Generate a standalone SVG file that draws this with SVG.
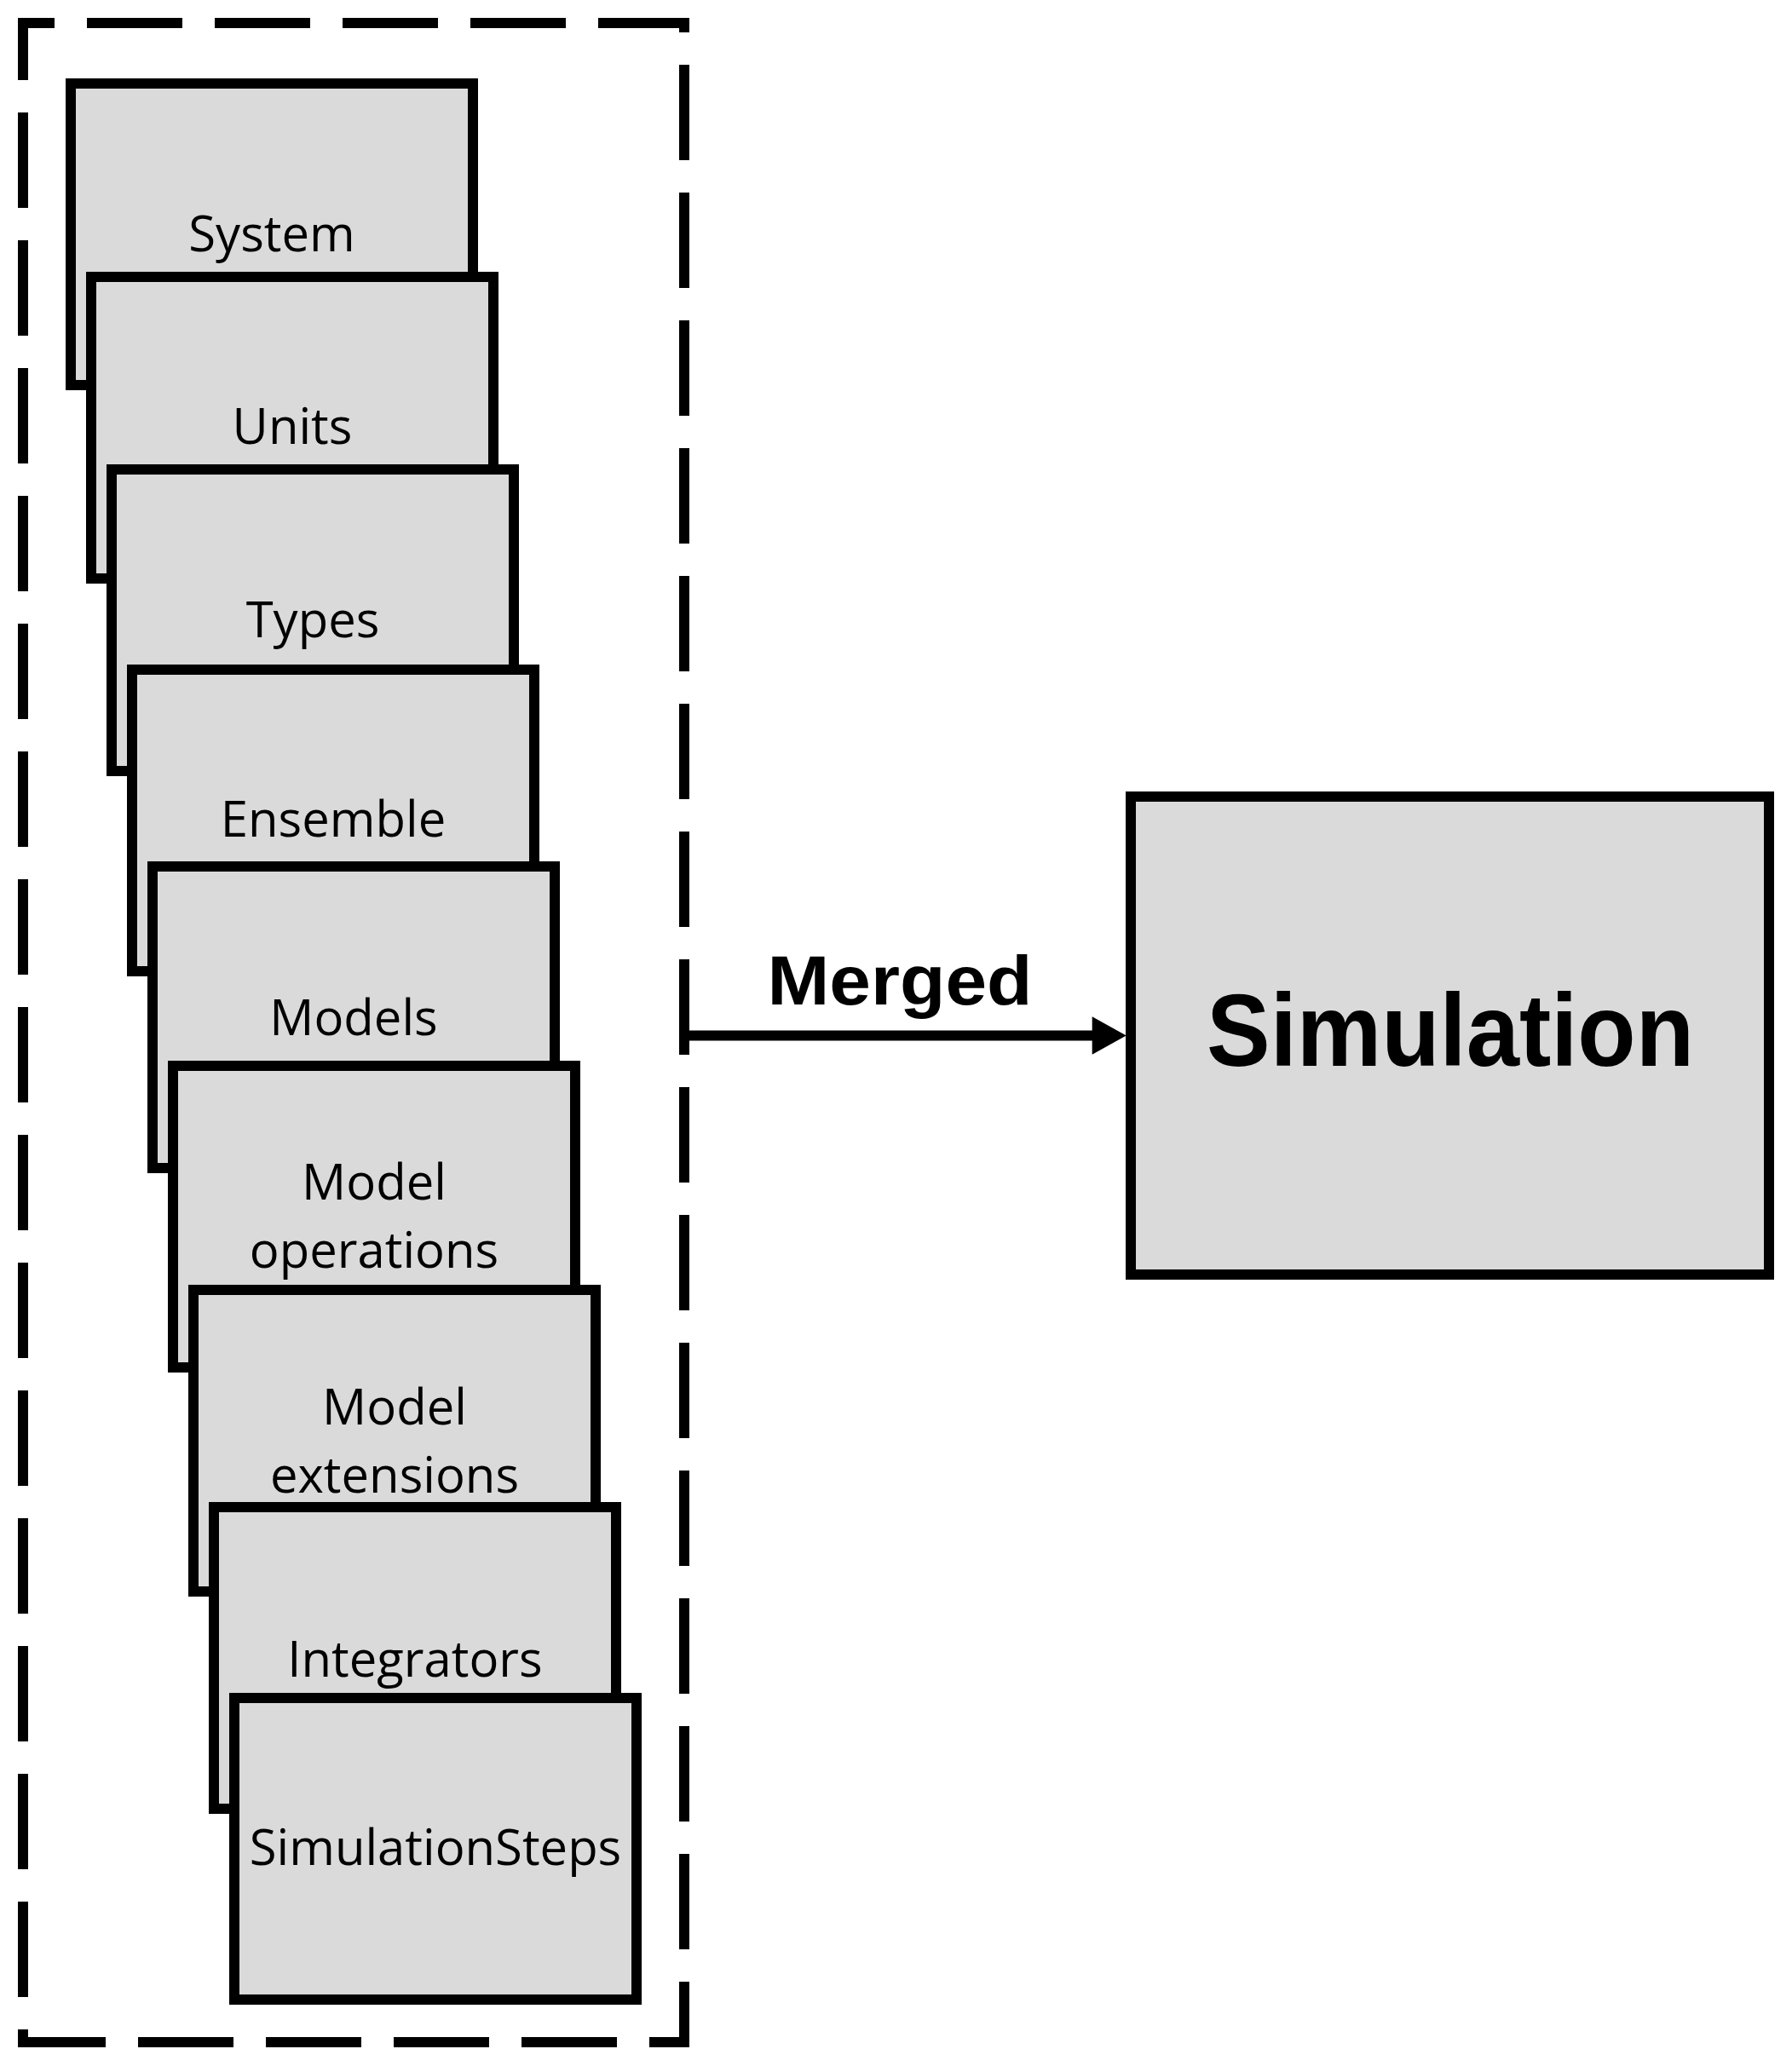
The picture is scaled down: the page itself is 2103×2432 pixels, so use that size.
<svg xmlns="http://www.w3.org/2000/svg" width="2103" height="2432" viewBox="0 0 2103 2432">
<style>
.box{fill:#dadada;stroke:#000;stroke-width:12;}
.lbl{font-family:"Open Sans","Noto Sans",sans-serif;font-size:58px;fill:#000;text-anchor:middle;}
.bold{font-family:"Liberation Sans","Arial",sans-serif;font-weight:bold;fill:#000;text-anchor:middle;}
.frame{fill:none;stroke:#000;stroke-width:12;stroke-dasharray:112 38;stroke-dashoffset:75;}
</style>
<rect width="2103" height="2432" fill="#fff"/>
<g id="group-frame">
<rect class="frame" x="27" y="27" width="776" height="2370"/>
</g>
<g id="node-system"><rect class="box" x="83" y="98" width="472" height="354"/><text class="lbl" x="319" y="295">System</text></g>
<g id="node-units"><rect class="box" x="107" y="325" width="472" height="354"/><text class="lbl" x="343" y="521">Units</text></g>
<g id="node-types"><rect class="box" x="131" y="551" width="472" height="354"/><text class="lbl" x="367" y="748">Types</text></g>
<g id="node-ensemble"><rect class="box" x="155" y="786" width="472" height="354"/><text class="lbl" x="391" y="982">Ensemble</text></g>
<g id="node-models"><rect class="box" x="179" y="1017" width="472" height="354"/><text class="lbl" x="415" y="1215">Models</text></g>
<g id="node-modelops"><rect class="box" x="203" y="1251" width="472" height="354"/><text class="lbl" x="439" y="1408">Model</text><text class="lbl" x="439" y="1488">operations</text></g>
<g id="node-modelext"><rect class="box" x="227" y="1514" width="472" height="354"/><text class="lbl" x="463" y="1672">Model</text><text class="lbl" x="463" y="1752">extensions</text></g>
<g id="node-integrators"><rect class="box" x="251" y="1769" width="472" height="354"/><text class="lbl" x="487" y="1968">Integrators</text></g>
<g id="node-simsteps"><rect class="box" x="275" y="1993" width="472" height="354"/><text class="lbl" x="511" y="2189">SimulationSteps</text></g>
<g id="node-simulation"><rect class="box" x="1327" y="935" width="749" height="561"/><text class="bold" x="1702" y="1251" font-size="120" textLength="572" lengthAdjust="spacingAndGlyphs">Simulation</text></g>
<g id="connectors">
<line x1="803" y1="1215.5" x2="1286" y2="1215.5" stroke="#000" stroke-width="12"/>
<polygon points="1281.7,1193.3 1321.7,1215.5 1281.7,1237.7" fill="#000"/>
<text class="bold" x="1056" y="1179" font-size="82" textLength="311" lengthAdjust="spacingAndGlyphs">Merged</text>
</g>
</svg>
